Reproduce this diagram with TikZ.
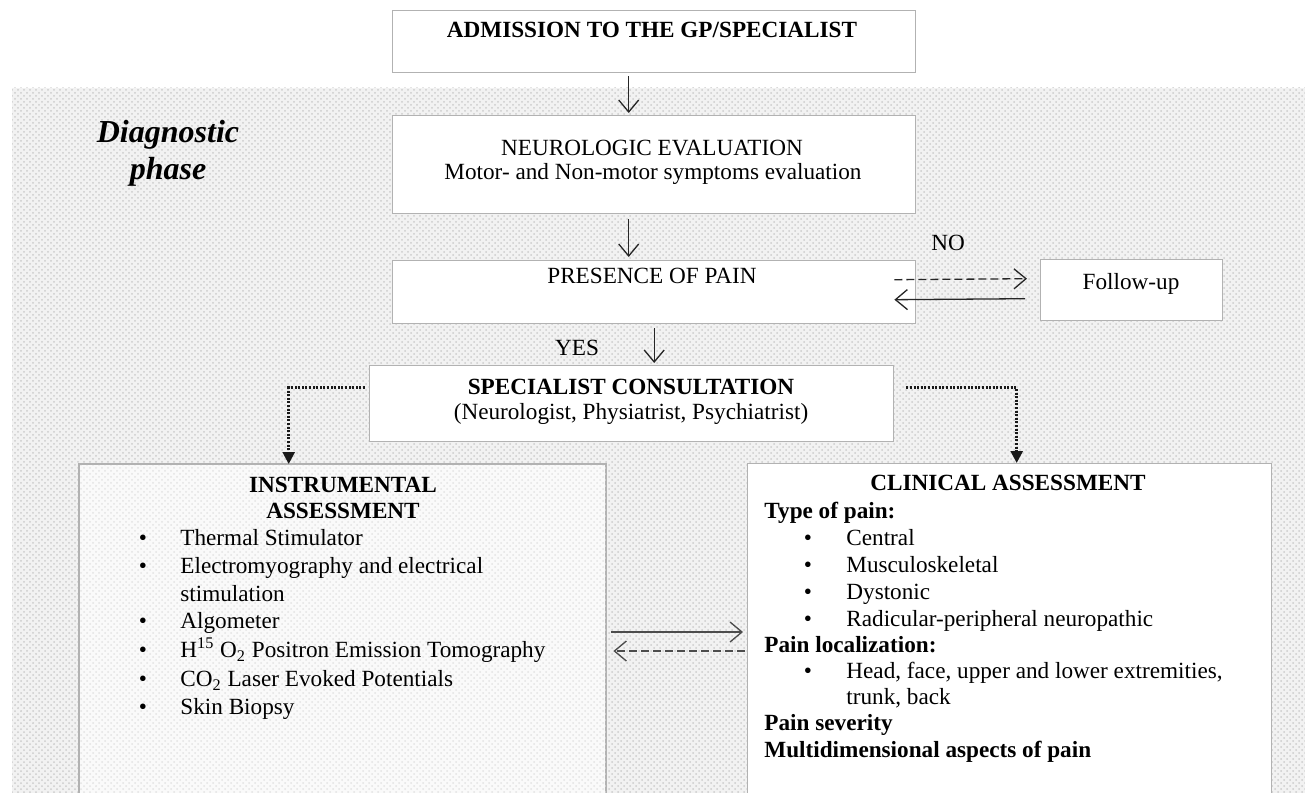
\documentclass[tikz,border=0pt]{standalone}
\usepackage{fontspec}
\setmainfont{Liberation Serif}
\usetikzlibrary{arrows.meta,patterns}
\begin{document}
\begin{tikzpicture}[x=0.5pt,y=-0.5pt,
  box/.style={draw=gray!60, line width=0.7pt, fill=white, anchor=north west, inner sep=0pt},
  txt/.style={font=\fontsize{11.6}{13}\selectfont, inner sep=0pt, text height=8pt, text depth=2.5pt},
  btxt/.style={txt, font=\fontsize{11.6}{13}\selectfont\bfseries},
  flow/.style={draw=black!85, line width=0.65pt, -{Straight Barb[length=6pt,width=10pt,line width=0.65pt]}},
  dflow/.style={flow, dash pattern=on 4pt off 2pt},
  dotarrow/.style={draw=black!90, line width=1.3pt, dash pattern=on 1pt off 0.8pt, -{Triangle[length=6pt,width=6pt]}},
  bul/.style={txt, anchor=center},
  item/.style={txt, anchor=west}]
\clip (0,0) rectangle (1305,792);
\useasboundingbox (0,0) rectangle (1305,792);
\fill[white] (0,0) rectangle (1305,792);
% dotted background of the diagnostic phase
\fill[gray!10] (12,88) rectangle (1310,800);
\fill[pattern=crosshatch dots, pattern color=gray!40] (12,88) rectangle (1310,800);

% boxes
\node[box, minimum width=261.5pt, minimum height=31pt] (adm) at (392,10) {};
\node[box, minimum width=261.5pt, minimum height=49pt] (neu) at (392,115) {};
\node[box, minimum width=261.5pt, minimum height=31.5pt] (pres) at (392,260) {};
\node[box, minimum width=91pt, minimum height=30.5pt] (fol) at (1040,259) {};
\node[box, minimum width=262pt, minimum height=38pt] (spec) at (369,365) {};
\node[box, minimum width=263pt, minimum height=175pt, fill=gray!4] (instr) at (79,464) {};
\fill[pattern=crosshatch dots, pattern color=gray!22] (instr.north west) rectangle (instr.south east);
\draw[draw=gray!60, line width=0.7pt] (instr.north west) rectangle (instr.south east);
\node[box, minimum width=262pt, minimum height=175pt] (clin) at (747,463) {};

% phase label
\node[align=center, inner sep=0pt, font=\fontsize{16}{18.5}\selectfont\bfseries\itshape] (phase) at (168,153) {Diagnostic\\phase};

% texts
\node[btxt] (tadm) at (652,32) {ADMISSION TO THE GP/SPECIALIST};
\node[txt] (tneu1) at (652,150) {NEUROLOGIC EVALUATION};
\node[txt, text height=7.5pt, text depth=2pt] (tneu2) at (653,174) {Motor- and Non-motor symptoms evaluation};
\node[txt] (tpres) at (652,278) {PRESENCE OF PAIN};
\node[txt] (tfol) at (1131,284) {Follow-up};
\node[btxt] (tspec1) at (631,389) {SPECIALIST CONSULTATION};
\node[txt] (tspec2) at (631,414) {(Neurologist, Physiatrist, Psychiatrist)};
\node[txt] (yes) at (577,350) {YES};
\node[txt] (no) at (948,245) {NO};

% instrumental assessment
\node[btxt] (tins1) at (343,487) {INSTRUMENTAL};
\node[btxt] (tins2) at (343,513) {ASSESSMENT};
\foreach \y/\t [count=\i] in {540/Thermal Stimulator, 568/Electromyography and electrical, 623/Algometer, 652/H\textsuperscript{15} O\textsubscript{2} Positron Emission Tomography, 681/CO\textsubscript{2} Laser Evoked Potentials, 709/Skin Biopsy}{
  \node[bul] (ib\i) at (143,\y) {•};
  \node[item] (it\i) at (180,\y) {\t};
}
\node[item] (it2b) at (180,596) {stimulation};

% clinical assessment
\node[btxt] (tcl) at (1008,485) {CLINICAL ASSESSMENT};
\node[btxt, anchor=west] (ctype) at (764,513) {Type of pain:};
\foreach \y/\t [count=\i] in {540/Central, 567/Musculoskeletal, 594/Dystonic, 621/Radicular-peripheral neuropathic, 673/{Head, face, upper and lower extremities,}}{
  \node[bul] (cb\i) at (808,\y) {•};
  \node[item] (ct\i) at (846,\y) {\t};
}
\node[item] (ct5b) at (846,699) {trunk, back};
\node[btxt, anchor=west] (cloc) at (764,647) {Pain localization:};
\node[btxt, anchor=west] (csev) at (764,725) {Pain severity};
\node[btxt, anchor=west] (cmul) at (764,752) {Multidimensional aspects of pain};

% connectors
\draw[flow] ([xshift=-12.75pt,yshift=-1.5pt]adm.south) -- ([xshift=-12.75pt,yshift=1pt]neu.north);
\draw[flow] ([xshift=-12.75pt,yshift=-2.5pt]neu.south) -- ([xshift=-12.75pt,yshift=1.5pt]pres.north);
\draw[flow] ([yshift=-2pt]pres.south) -- ([yshift=1pt]pres.south |- spec.north);
\draw[dflow] ([xshift=-11pt,yshift=6.25pt]pres.east) -- ([xshift=-6.5pt,yshift=5.75pt]fol.west);
\draw[flow] ([xshift=-7.5pt,yshift=-4.25pt]fol.west) -- ([xshift=-11pt,yshift=-3.75pt]pres.east);
\draw[dotarrow] ([xshift=-2pt,yshift=8pt]spec.west) -| ([xshift=-27pt]instr.north);
\draw[dotarrow] ([xshift=6pt,yshift=8pt]spec.east) -| ([xshift=3.5pt]clin.north);
\draw[flow, draw=black!70] ([xshift=2.5pt,yshift=-84pt]instr.north east) -- ([xshift=-2pt,yshift=-84.5pt]clin.north west);
\draw[dflow, draw=black!70] ([xshift=-1pt,yshift=-94pt]clin.north west) -- ([xshift=3.5pt,yshift=-93.5pt]instr.north east);
\end{tikzpicture}
\end{document}
